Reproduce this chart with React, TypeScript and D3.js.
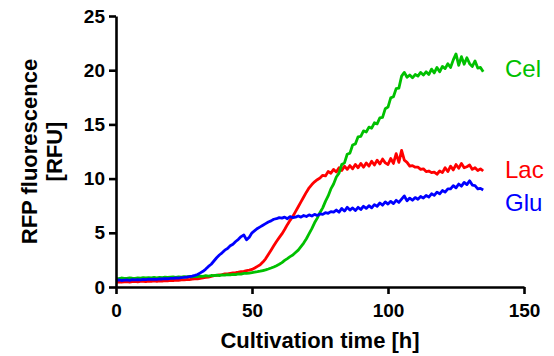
import React, { useRef, useEffect } from "react";
import * as d3 from "d3";

// readings sampled every hour, 0..135 h
const STEP_H = 1;

const celValues = [
  0.80, 0.78, 0.83, 0.80, 0.79, 0.84, 0.81, 0.80, 0.85, 0.82, 0.86,
  0.83, 0.87, 0.84, 0.88, 0.85, 0.89, 0.86, 0.90, 0.88, 0.91,
  0.93, 0.89, 0.94, 0.91, 0.96, 0.93, 0.97, 0.94, 0.99, 0.96,
  1.01, 0.98, 1.04, 1.01, 1.06, 1.04, 1.09, 1.06, 1.11, 1.09,
  1.14, 1.12, 1.17, 1.15, 1.21, 1.19, 1.25, 1.26, 1.29, 1.33,
  1.37, 1.41, 1.46, 1.52, 1.58, 1.66, 1.75, 1.85, 1.97, 2.10,
  2.25, 2.45, 2.62, 2.80, 2.95, 3.18, 3.40, 3.72, 4.05, 4.45,
  4.92, 5.38, 5.92, 6.35, 6.88, 7.30, 7.90, 8.40, 9.05, 9.50,
  10.15, 10.50, 11.30, 11.45, 12.25, 12.35, 13.10, 13.20, 13.85, 13.90,
  14.40, 14.30, 14.75, 14.65, 15.15, 15.05, 15.60, 15.65, 16.45, 16.60,
  17.45, 17.55, 18.30, 18.35, 19.45, 19.80, 19.35, 19.55, 19.30, 19.60,
  19.45, 19.80, 19.55, 19.85, 19.60, 20.10, 19.75, 20.25, 19.85, 20.35,
  20.15, 20.60, 20.25, 20.95, 21.50, 20.45, 21.25, 20.55, 21.15, 20.60,
  20.35, 20.85, 20.20, 20.25, 19.85,
];

const lacValues = [
  0.45, 0.48, 0.44, 0.47, 0.50, 0.46, 0.49, 0.52, 0.48, 0.51, 0.53,
  0.50, 0.54, 0.52, 0.56, 0.53, 0.57, 0.55, 0.59, 0.57, 0.61,
  0.60, 0.64, 0.62, 0.66, 0.65, 0.69, 0.68, 0.72, 0.74, 0.76,
  0.80, 0.84, 0.88, 0.92, 0.98, 1.04, 1.08, 1.12, 1.15, 1.20,
  1.22, 1.26, 1.30, 1.33, 1.37, 1.42, 1.45, 1.52, 1.55, 1.62,
  1.75, 1.90, 2.05, 2.30, 2.60, 3.00, 3.40, 3.80, 4.20, 4.55,
  4.90, 5.30, 5.75, 6.15, 6.50, 6.95, 7.40, 7.85, 8.30, 8.75,
  9.15, 9.45, 9.70, 9.90, 10.05, 10.30, 10.25, 10.65, 10.50, 10.85,
  10.60, 11.00, 10.75, 11.15, 10.85, 11.20, 10.90, 11.30, 11.00, 11.40,
  11.05, 11.45, 11.15, 11.60, 11.25, 11.70, 11.35, 11.80, 11.45, 11.30,
  11.85, 11.40, 12.30, 11.50, 12.60, 11.70, 11.50, 11.15, 11.20, 11.05,
  11.05, 10.85, 10.90, 10.65, 10.70, 10.55, 10.60, 10.40, 10.70, 10.55,
  11.00, 10.65, 11.15, 10.80, 11.30, 10.95, 11.40, 11.00, 11.10, 11.25,
  10.85, 11.00, 10.75, 10.90, 10.70,
];

const gluValues = [
  0.62, 0.65, 0.60, 0.64, 0.66, 0.62, 0.67, 0.65, 0.69, 0.66, 0.70,
  0.68, 0.72, 0.70, 0.73, 0.71, 0.75, 0.74, 0.77, 0.76, 0.80,
  0.79, 0.83, 0.82, 0.86, 0.88, 0.92, 0.95, 1.00, 1.07, 1.15,
  1.30, 1.45, 1.65, 1.90, 2.10, 2.40, 2.70, 2.95, 3.15, 3.40,
  3.55, 3.80, 3.95, 4.20, 4.40, 4.65, 4.80, 4.35, 4.60, 5.00,
  5.20, 5.40, 5.55, 5.70, 5.85, 6.00, 6.10, 6.25, 6.30, 6.40,
  6.35, 6.45, 6.30, 6.50, 6.40, 6.45, 6.55, 6.45, 6.60, 6.50,
  6.65, 6.55, 6.70, 6.60, 6.75, 6.70, 6.85, 6.80, 6.95, 6.90,
  7.10, 6.90, 7.25, 7.00, 7.35, 7.10, 7.30, 7.05, 7.35, 7.15,
  7.45, 7.25, 7.50, 7.30, 7.60, 7.45, 7.75, 7.55, 7.85, 7.65,
  7.90, 7.70, 8.00, 7.80, 8.10, 8.40, 7.95, 8.20, 8.00, 8.25,
  8.10, 8.35, 8.20, 8.45, 8.30, 8.60, 8.45, 8.75, 8.60, 8.90,
  8.75, 9.05, 9.05, 9.35, 9.15, 9.50, 9.30, 9.65, 9.45, 9.80,
  9.40, 9.35, 9.05, 9.10, 8.95,
];

const xTicks = [0, 50, 100, 150];
const yTicks = [0, 5, 10, 15, 20, 25];

export default function App() {
  const svgRef = useRef<SVGSVGElement>(null);

  useEffect(() => {
    const svg = d3.select(svgRef.current);
    svg.selectAll("*").remove();

    const width = 554;
    const height = 356;
    const font = "'Liberation Sans', Arial, Helvetica, sans-serif";

    const x = d3.scaleLinear().domain([0, 150]).range([116, 524]);
    const y = d3.scaleLinear().domain([0, 25]).range([287, 16]);

    const series = [
      { name: "Lac", values: lacValues, color: "#ff0000", labelY: 178 },
      { name: "Cel", values: celValues, color: "#00c000", labelY: 77 },
      { name: "Glu", values: gluValues, color: "#0000ff", labelY: 211 },
    ];

    const line = d3.line<number>()
      .x((d, i) => x(i * STEP_H))
      .y(d => y(d));

    svg.selectAll("path.series")
      .data(series)
      .join("path")
      .attr("class", "series")
      .attr("d", d => line(d.values))
      .attr("fill", "none")
      .attr("stroke", d => d.color)
      .attr("stroke-width", 2.8)
      .attr("stroke-linejoin", "round");

    svg.selectAll("text.lbl")
      .data(series)
      .join("text")
      .attr("class", "lbl")
      .attr("x", 505)
      .attr("y", d => d.labelY)
      .attr("fill", d => d.color)
      .style("font-family", font)
      .style("font-size", "24px")
      .text(d => d.name);

    const xAxis = svg.append("g")
      .attr("transform", `translate(0,${y(0)})`)
      .call(d3.axisBottom(x).tickValues(xTicks).tickSize(7).tickSizeOuter(0).tickPadding(10));

    const yAxis = svg.append("g")
      .attr("transform", `translate(${x(0)},0)`)
      .call(d3.axisLeft(y).tickValues(yTicks).tickSize(7).tickSizeOuter(0).tickPadding(4));

    [xAxis, yAxis].forEach(g => {
      g.select(".domain").attr("stroke", "#000").attr("stroke-width", 2.6);
      g.selectAll(".tick line").attr("stroke", "#000").attr("stroke-width", 2.6);
      g.selectAll(".tick text")
        .attr("fill", "#000")
        .style("font-family", font)
        .style("font-size", "19px")
        .style("font-weight", "bold");
    });

    svg.append("text")
      .attr("x", (x(0) + x(150)) / 2)
      .attr("y", 348)
      .attr("text-anchor", "middle")
      .style("font-family", font)
      .style("font-size", "22px")
      .style("font-weight", "bold")
      .text("Cultivation time [h]");

    const yTitle = svg.append("text")
      .attr("transform", `translate(0,${(y(0) + y(25)) / 2}) rotate(-90)`)
      .attr("text-anchor", "middle")
      .style("font-family", font)
      .style("font-size", "22px")
      .style("font-weight", "bold");
    yTitle.append("tspan").attr("x", 0).attr("y", 37).text("RFP fluorescence");
    yTitle.append("tspan").attr("x", 0).attr("y", 62).text("[RFU]");

    svg.attr("width", width).attr("height", height);
  }, []);

  return (
    <svg
      ref={svgRef}
      width={554}
      height={356}
      style={{ position: "absolute", left: 0, top: 0, background: "#fff" }}
    />
  );
}
